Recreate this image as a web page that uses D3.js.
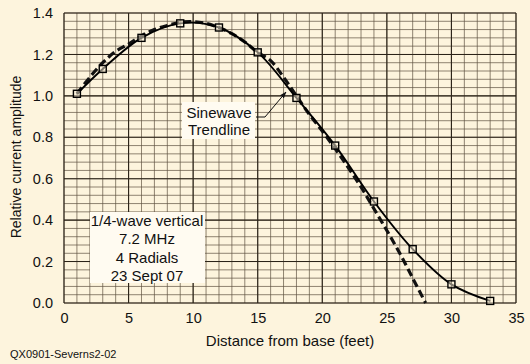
<!DOCTYPE html>
<html>
<head>
<meta charset="utf-8">
<title>Relative current amplitude</title>
<style>
  body { margin: 0; background: #fdf4dd; }
  svg text { font-family: "Liberation Sans", Arial, sans-serif; fill: #111; }
</style>
</head>
<body>
<div id="chart"></div>
<script src="https://cdn.jsdelivr.net/npm/d3@7"></script>
<script>
// measured points (solid line with squares)
var measDist = [1, 3, 6, 9, 12, 15, 18, 21, 24, 27, 30, 33];
var measAmp  = [1.01, 1.13, 1.28, 1.35, 1.33, 1.21, 0.99, 0.76, 0.49, 0.26, 0.09, 0.01];

// sinewave trendline
var trendDist = [1, 2, 3, 4, 5, 6, 7, 8, 9, 10, 11, 12, 13, 14, 15, 16, 17, 18, 19, 20, 21, 22, 23, 24, 25, 26, 27, 28];
var trendAmp  = [1.01, 1.09, 1.16, 1.215, 1.25, 1.29, 1.32, 1.34, 1.355, 1.358, 1.35, 1.33, 1.30, 1.26, 1.21, 1.17, 1.09, 1.0, 0.91, 0.83, 0.745, 0.655, 0.56, 0.455, 0.35, 0.24, 0.12, 0.0];

var xTicks = [0, 5, 10, 15, 20, 25, 30, 35];
var yTicks = [0, 0.2, 0.4, 0.6, 0.8, 1.0, 1.2, 1.4];
var noteLines = ["1/4-wave vertical", "7.2 MHz", "4 Radials", "23 Sept 07"];
var trendLabel = ["Sinewave", "Trendline"];

var width = 530, height = 364;
var margin = {top: 13, right: 14, bottom: 61, left: 64};

var svg = d3.select("#chart").append("svg")
    .attr("width", width)
    .attr("height", height);

svg.append("rect").attr("width", width).attr("height", height).attr("fill", "#fdf4dd");

var x = d3.scaleLinear().domain([0, 35]).range([margin.left, width - margin.right]);
var y = d3.scaleLinear().domain([0, 1.4]).range([height - margin.bottom, margin.top]);

var g = svg.append("g");

// minor grid
g.selectAll(".vminor").data(d3.range(0, 36, 1)).enter().append("line")
    .attr("x1", d => x(d)).attr("x2", d => x(d))
    .attr("y1", y(0)).attr("y2", y(1.4))
    .attr("stroke", "#5e5240").attr("stroke-width", 0.7);
g.selectAll(".hminor").data(d3.range(0, 36).map(i => i * 0.04)).enter().append("line")
    .attr("x1", x(0)).attr("x2", x(35))
    .attr("y1", d => y(d)).attr("y2", d => y(d))
    .attr("stroke", "#5e5240").attr("stroke-width", 0.7);

// major grid
g.selectAll(".vmajor").data(xTicks).enter().append("line")
    .attr("x1", d => x(d)).attr("x2", d => x(d))
    .attr("y1", y(0)).attr("y2", y(1.4))
    .attr("stroke", "#2b2318").attr("stroke-width", 1.1);
g.selectAll(".hmajor").data(yTicks).enter().append("line")
    .attr("x1", x(0)).attr("x2", x(35))
    .attr("y1", d => y(d)).attr("y2", d => y(d))
    .attr("stroke", "#2b2318").attr("stroke-width", 1.1);

// axes (labels only, grid is the frame)
var xAxis = svg.append("g")
    .attr("transform", "translate(0," + y(0) + ")")
    .call(d3.axisBottom(x).tickValues(xTicks).tickSize(0).tickPadding(10).tickFormat(d3.format("d")));
var yAxis = svg.append("g")
    .attr("transform", "translate(" + x(0) + ",0)")
    .call(d3.axisLeft(y).tickValues(yTicks).tickSize(0).tickPadding(11).tickFormat(d3.format(".1f")));
[xAxis, yAxis].forEach(function(a) {
  a.select(".domain").remove();
  a.selectAll("text").attr("font-size", 14.5).attr("font-family", "Liberation Sans, Arial, sans-serif").attr("fill", "#111");
});

// axis titles
svg.append("text")
    .attr("x", 290).attr("y", 346)
    .attr("text-anchor", "middle").attr("font-size", 15)
    .text("Distance from base (feet)");
svg.append("text")
    .attr("transform", "translate(21,157) rotate(-90)")
    .attr("text-anchor", "middle").attr("font-size", 14)
    .text("Relative current amplitude");
svg.append("text")
    .attr("x", 10).attr("y", 358)
    .attr("font-size", 11)
    .text("QX0901-Severns2-02");

// note box
var note = svg.append("g");
note.append("rect")
    .attr("x", 90).attr("y", 212).attr("width", 115).attr("height", 71)
    .attr("fill", "#fffbf1");
note.selectAll("text").data(noteLines).enter().append("text")
    .attr("x", 147).attr("y", (d, i) => 226 + i * 18.4)
    .attr("text-anchor", "middle").attr("font-size", 15)
    .text(d => d);

// trendline label
var tl = svg.append("g");
tl.append("rect")
    .attr("x", 182).attr("y", 102).attr("width", 73).attr("height", 37)
    .attr("fill", "#fffbf1");
tl.selectAll("text").data(trendLabel).enter().append("text")
    .attr("x", 219).attr("y", (d, i) => 118 + i * 17)
    .attr("text-anchor", "middle").attr("font-size", 15)
    .text(d => d);

svg.append("defs").append("marker")
    .attr("id", "arrow").attr("viewBox", "0 0 10 10")
    .attr("refX", 9).attr("refY", 5)
    .attr("markerWidth", 7).attr("markerHeight", 7)
    .attr("orient", "auto")
  .append("path").attr("d", "M0,1.5L10,5L0,8.5Z").attr("fill", "#111");
tl.append("path")
    .attr("d", "M256,117L265,117L286,92")
    .attr("fill", "none").attr("stroke", "#111").attr("stroke-width", 1)
    .attr("marker-end", "url(#arrow)");

// curves
var trend = trendDist.map((d, i) => [d, trendAmp[i]]);
var meas = measDist.map((d, i) => [d, measAmp[i]]);

var line = d3.line().x(d => x(d[0])).y(d => y(d[1])).curve(d3.curveCatmullRom.alpha(0.5));

svg.append("path").datum(trend)
    .attr("d", line)
    .attr("fill", "none").attr("stroke", "#111")
    .attr("stroke-width", 3.2).attr("stroke-dasharray", "8,4");

svg.append("path").datum(meas)
    .attr("d", line)
    .attr("fill", "none").attr("stroke", "#000")
    .attr("stroke-width", 1.9);

svg.selectAll(".pt").data(meas).enter().append("rect")
    .attr("x", d => x(d[0]) - 3.5).attr("y", d => y(d[1]) - 3.5)
    .attr("width", 7).attr("height", 7)
    .attr("fill", "#fdf4dd").attr("fill-opacity", 0.5)
    .attr("stroke", "#000").attr("stroke-width", 1.4);
</script>
</body>
</html>
